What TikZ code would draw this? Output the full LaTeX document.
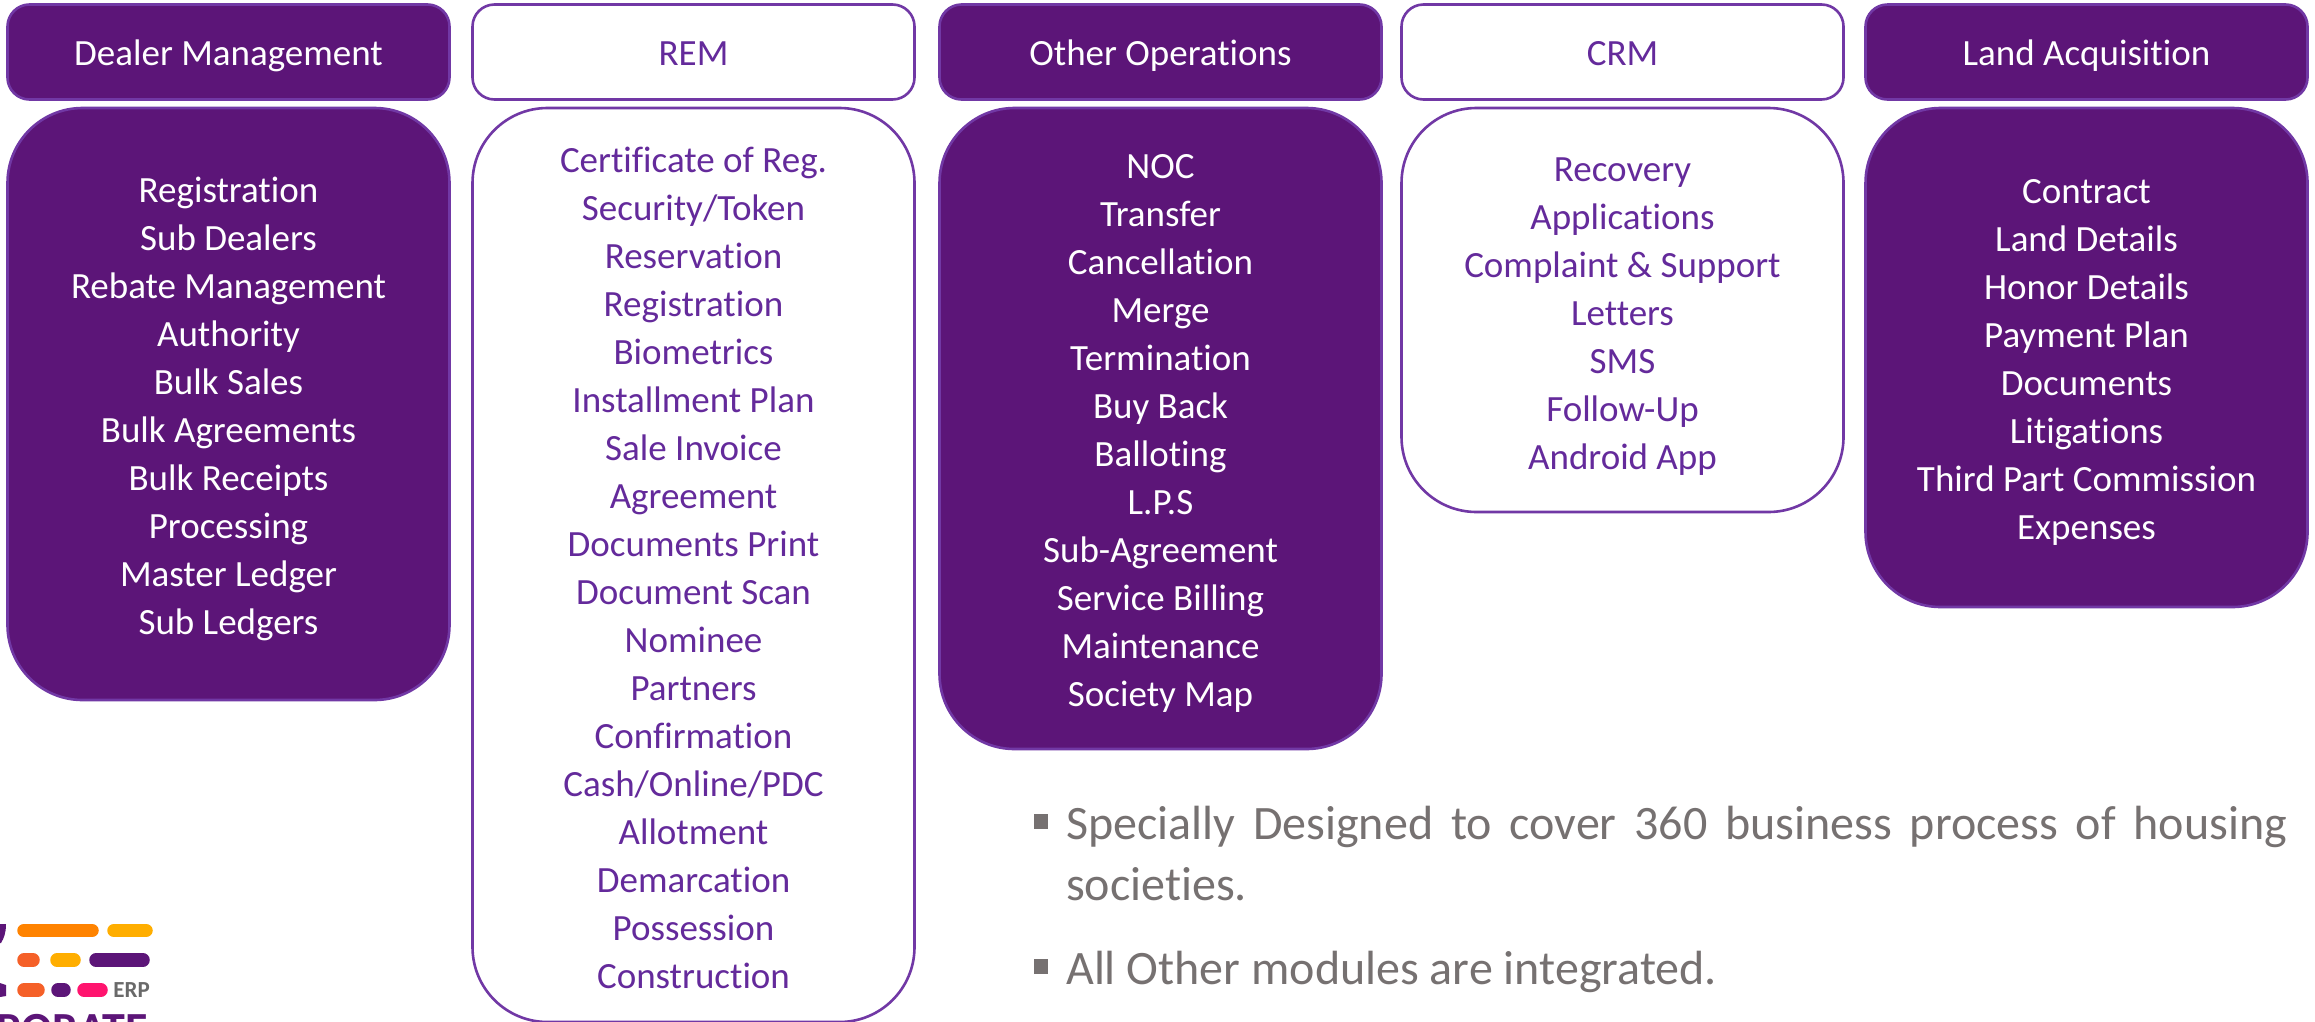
\documentclass[tikz,border=0pt]{standalone}
\usepackage{fontspec}
\setmainfont[Ligatures=NoCommon]{Carlito}
\definecolor{pfill}{HTML}{5C1578}
\definecolor{pedge}{HTML}{7138A5}
\definecolor{ptext}{HTML}{642A9B}
\definecolor{gtext}{HTML}{767171}
\definecolor{lorange}{HTML}{FF8300}
\definecolor{lamber}{HTML}{FFAE00}
\definecolor{lred}{HTML}{F56028}
\definecolor{lpink}{HTML}{FF146E}
\tikzset{
 x=1pt,y=-1pt,
 head/.style={draw=pedge,line width=2.6pt,rounded corners=22pt,minimum width=442pt,minimum height=95pt,inner sep=0pt,text height=28pt,text depth=2pt,font=\fontsize{37}{48}\selectfont},
 body/.style={draw=pedge,line width=2.6pt,rounded corners=75pt,minimum width=442pt,inner sep=0pt},
 lines/.style={inner sep=0pt,align=center,font=\fontsize{37}{48}\selectfont},
 filled/.style={fill=pfill,text=white},
 hollow/.style={fill=white,text=ptext},
 note/.style={anchor=base west,inner sep=0pt,text=gtext,font=\fontsize{48}{60}\selectfont},
 bullet/.style={fill=gtext,inner sep=0pt,minimum width=14pt,minimum height=15pt},
 pill/.style={line width=13.5pt,line cap=round},
}
\begin{document}
\begin{tikzpicture}
\useasboundingbox (0,0) rectangle (2315,1021);
\clip (0,0) rectangle (2315,1021);
\fill[white] (0,0) rectangle (2315,1021);
\node[head,filled] (h1) at (228.5,52) {Dealer Management};
\node[head,hollow] (h2) at (693.5,52) {REM};
\node[head,filled] (h3) at (1160.5,52) {Other Operations};
\node[head,hollow] (h4) at (1622.5,52) {CRM};
\node[head,filled] (h5) at (2086.5,52) {Land Acquisition};
\node[body,filled,minimum height=592pt] (b1) at (228.5,404) {};
\node[body,hollow,minimum height=914pt] (b2) at (693.5,565) {};
\node[body,filled,minimum height=641pt] (b3) at (1160.5,428.5) {};
\node[body,hollow,minimum height=404pt] (b4) at (1622.5,310) {};
\node[body,filled,minimum height=499pt] (b5) at (2086.5,357.5) {};
\node[lines,text=white] (l1) at ([yshift=-4.5pt]b1.center) {Registration\\Sub Dealers\\Rebate Management\\Authority\\Bulk Sales\\Bulk Agreements\\Bulk Receipts\\Processing\\Master Ledger\\Sub Ledgers};
\node[lines,text=ptext] (l2) at ([yshift=-3pt]b2.center) {Certificate of Reg.\\Security/Token\\Reservation\\Registration\\Biometrics\\Installment Plan\\Sale Invoice\\Agreement\\Documents Print\\Document Scan\\Nominee\\Partners\\Confirmation\\Cash/Online/PDC\\Allotment\\Demarcation\\Possession\\Construction};
\node[lines,text=white] (l3) at ([yshift=-5pt]b3.center) {NOC\\Transfer\\Cancellation\\Merge\\Termination\\Buy Back\\Balloting\\L.P.S\\Sub-Agreement\\Service Billing\\Maintenance\\Society Map};
\node[lines,text=ptext] (l4) at ([yshift=-6.5pt]b4.center) {Recovery\\Applications\\Complaint \& Support\\Letters\\SMS\\Follow-Up\\Android App};
\node[lines,text=white] (l5) at ([yshift=-4.5pt]b5.center) {Contract\\Land Details\\Honor Details\\Payment Plan\\Documents\\Litigations\\Third Part Commission\\Expenses};
\node[bullet] (s1) at (1040.5,821) {};
\node[note] (t1) at (1066,839) {\makebox[1221pt][s]{Specially Designed to cover 360 business process of housing}};
\node[note] (t1b) at (1066,900) {societies.};
\node[bullet] (s2) at (1040.5,966) {};
\node[note] (t2) at (1066,984) {All Other modules are integrated.};
% logo
\draw[pill,lorange] (24,930.5) -- (92,930.5);
\draw[pill,lamber] (114,930.5) -- (146,930.5);
\draw[pill,lred] (24,960) -- (33,960);
\draw[pill,lamber] (57,960) -- (74,960);
\draw[pill,pfill] (96,960) -- (143,960);
\draw[pill,lred] (24,990) -- (38,990);
\draw[pill,pfill] (58,990) -- (64,990);
\draw[pill,lpink] (84,990) -- (101,990);
\fill[pfill] (0,924) -- (6,924) .. controls (6,933) and (4,938) .. (1,943) -- (0,943) -- cycle;
\fill[pfill] (0,983) -- (6,985) -- (6,996) -- (0,997) -- cycle;
\node[anchor=base east,inner sep=0pt,text={rgb,255:red,105;green,105;blue,105},font=\fontsize{23}{23}\selectfont\bfseries] (erp) at (150,997) {ERP};
\node[anchor=base east,inner sep=0pt,text=pfill,font=\fontsize{46}{46}\selectfont\bfseries] (corp) at (148,1044) {CORPORATE};
\end{tikzpicture}
\end{document}
